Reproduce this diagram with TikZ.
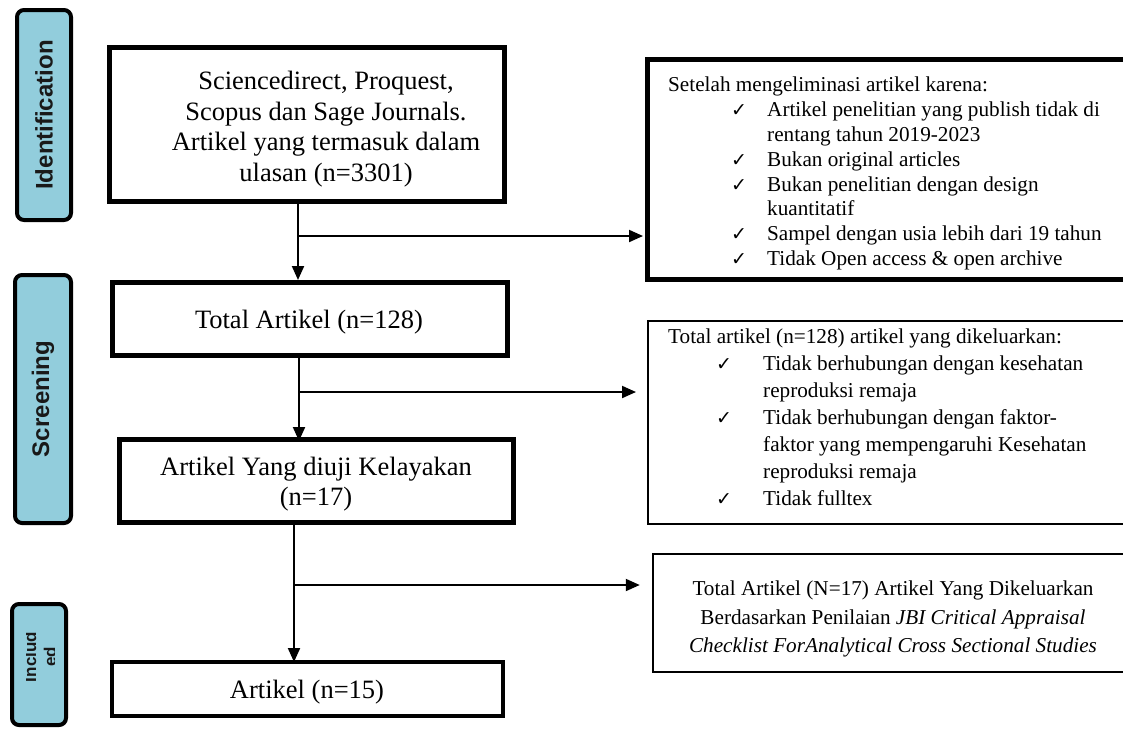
\documentclass[tikz,border=0pt]{standalone}
\usepackage{fontspec}
\setmainfont{Liberation Serif}
\newfontfamily\lsans{Liberation Sans}
\newfontfamily\symf{DejaVu Sans}
\usetikzlibrary{arrows.meta}
\definecolor{lblue}{HTML}{92CDDC}
\newcommand{\ck}{{\symf\fontsize{19}{19}\selectfont ✓}}
\newcommand{\itemA}[1]{\hspace*{63pt}\makebox[36pt][l]{\ck}#1}
\newcommand{\contA}[1]{\hspace*{99pt}#1}
\newcommand{\itemB}[1]{\hspace*{48pt}\makebox[47pt][l]{\ck}#1}
\newcommand{\contB}[1]{\hspace*{95pt}#1}
\tikzset{
  stagebox/.style={draw=black, line width=4pt, fill=lblue, rounded corners=7pt, inner sep=0pt},
  stagetext/.style={rotate=90, font=\lsans\bfseries\fontsize{24}{27}\selectfont, text=black!90},
  mainbox/.style={draw=black, line width=5pt, inner sep=0pt},
  maintext/.style={align=center, inner sep=0pt, font=\fontsize{26.5}{30.5}\selectfont},
  sidebox/.style={draw=black, inner sep=0pt},
  sidetext/.style={align=left, inner sep=0pt, anchor=north west, font=\fontsize{21.2}{24.8}\selectfont},
  arr/.style={line width=2pt, -{Triangle[length=14pt,width=12pt]}},
}
\begin{document}
\begin{tikzpicture}[x=1pt,y=-1pt]
\useasboundingbox (0,0) rectangle (1123,729);
\fill[white] (0,0) rectangle (1123,729);

% stage labels
\node[stagebox, minimum width=54pt, minimum height=210pt] (sid) at (44,115) {};
\node[stagetext] (sidt) at (sid.center) {Identification};
\node[stagebox, minimum width=56pt, minimum height=248pt] (ssc) at (43,399) {};
\node[stagetext] (ssct) at (ssc.center) {Screening};
\node[stagebox, minimum width=54pt, minimum height=121pt] (sin) at (39,664.5) {};
\begin{scope}
\clip (26,620) rectangle (54,700);
\node[rotate=90, align=center, inner sep=0pt, font=\lsans\bfseries\fontsize{17}{20}\selectfont, text=black!90] (sint) at (40,657) {Includ\\ed};
\end{scope}

% main flow boxes
\node[mainbox, minimum width=395pt, minimum height=154pt] (b1) at (307,124.5) {};
\node[maintext] (b1t) at (326,129) {Sciencedirect, Proquest,\\Scopus dan Sage Journals.\\Artikel yang termasuk dalam\\ulasan (n=3301)};
\node[mainbox, minimum width=395pt, minimum height=73pt] (b2) at (310,319) {};
\node[maintext] (b2t) at (309,322) {Total Artikel (n=128)};
\node[mainbox, minimum width=394pt, minimum height=83pt] (b3) at (316.5,481) {};
\node[maintext] (b3t) at (316,484) {Artikel Yang diuji Kelayakan\\(n=17)};
\node[mainbox, line width=4pt, minimum width=391pt, minimum height=54pt] (b4) at (307.5,689) {};
\node[maintext] (b4t) at (307,692) {Artikel (n=15)};

% side boxes
\node[sidebox, line width=5pt, minimum width=480pt, minimum height=220pt] (r1) at (887.5,169.5) {};
\node[sidetext] (r1t) at (668,77) {Setelah mengeliminasi artikel karena:\\
\itemA{Artikel penelitian yang publish tidak di}\\
\contA{rentang tahun 2019-2023}\\
\itemA{Bukan original articles}\\
\itemA{Bukan penelitian dengan design}\\
\contA{kuantitatif}\\
\itemA{Sampel dengan usia lebih dari 19 tahun}\\
\itemA{Tidak Open access \& open archive}};

\node[sidebox, line width=2pt, minimum width=478pt, minimum height=203pt] (r2) at (887,422.5) {};
\node[sidetext, font=\fontsize{21.2}{27}\selectfont] (r2t) at (668,329) {Total artikel (n=128) artikel yang dikeluarkan:\\
\itemB{Tidak berhubungan dengan kesehatan}\\
\contB{reproduksi remaja}\\
\itemB{Tidak berhubungan dengan faktor-}\\
\contB{faktor yang mempengaruhi Kesehatan}\\
\contB{reproduksi remaja}\\
\itemB{Tidak fulltex}};

\node[sidebox, line width=2.5pt, minimum width=472pt, minimum height=118pt] (r3) at (889,613) {};
\node[align=center, inner sep=0pt, font=\fontsize{21.2}{28.5}\selectfont] (r3t) at (893,619) {Total Artikel (N=17) Artikel Yang Dikeluarkan\\
Berdasarkan Penilaian \textit{JBI Critical Appraisal}\\
\textit{Checklist ForAnalytical Cross Sectional Studies}};

% connectors
\coordinate (j1) at (298,236);
\coordinate (j2) at (299,392);
\coordinate (j3) at (294,585);
\draw[arr] (j1 |- b1.south) -- (j1 |- b2.north);
\draw[arr] (j1) -- ([xshift=-2pt]j1 -| r1.west);
\draw[arr] (j2 |- b2.south) -- ([yshift=-4pt]j2 |- b3.north);
\draw[arr] (j2) -- ([xshift=-11pt]j2 -| r2.west);
\draw[arr] (j3 |- b3.south) -- ([yshift=-2pt]j3 |- b4.north);
\draw[arr] (j3) -- ([xshift=-12pt]j3 -| r3.west);
\end{tikzpicture}
\end{document}
